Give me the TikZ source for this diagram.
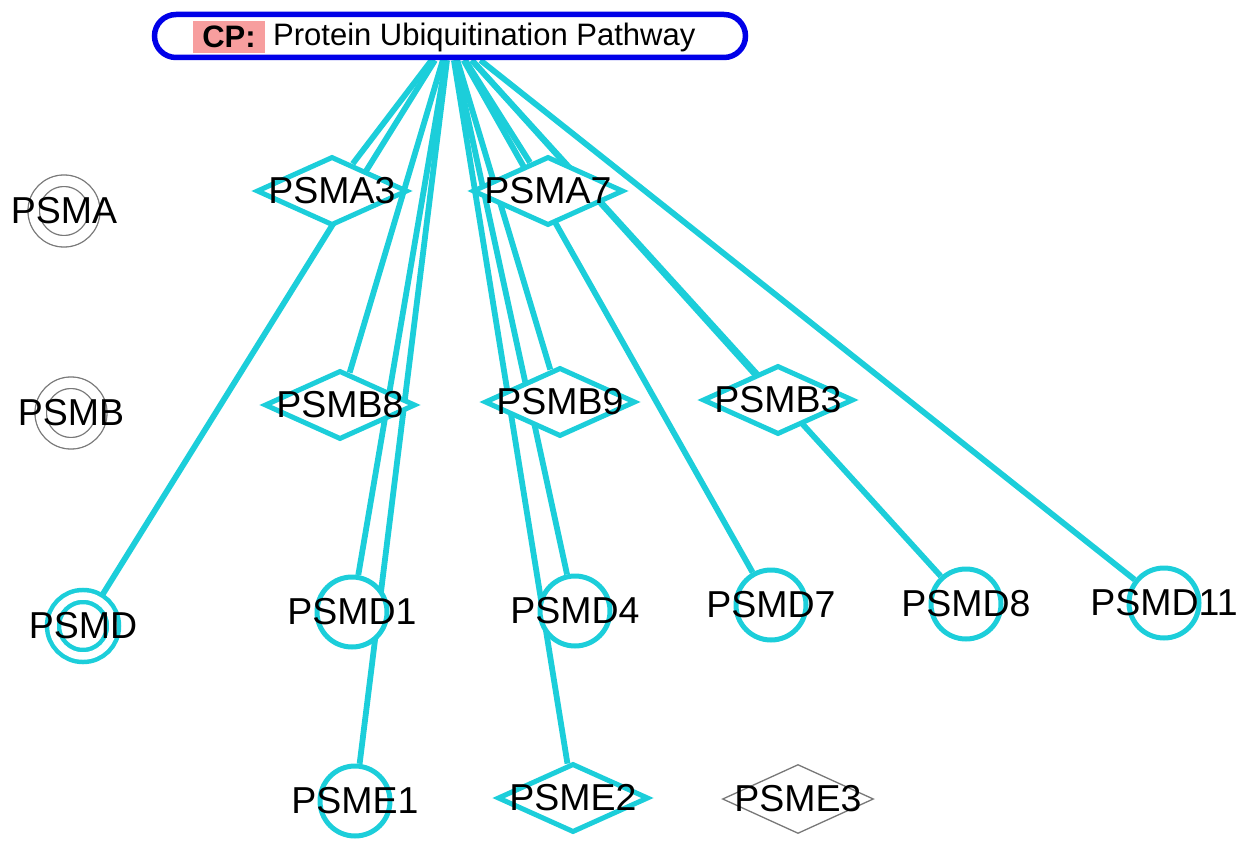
\documentclass[tikz,border=0pt]{standalone}
\usepackage{fontspec}
\setmainfont{Liberation Sans}
\usetikzlibrary{shapes.geometric,backgrounds}

\definecolor{tuerkis}{RGB}{28,206,218}
\definecolor{pfadblau}{RGB}{0,0,232}
\definecolor{cprosa}{RGB}{247,158,158}
\definecolor{grau}{RGB}{120,120,120}

\tikzset{
  gentext/.style={font=\fontsize{37.5}{40}\selectfont, inner sep=0pt},
  kante/.style={tuerkis, line width=5.8pt},
  raute/.style={diamond, draw=tuerkis, line width=5pt, fill=white,
    minimum width=151pt, minimum height=69pt, inner sep=0pt,
    label={[gentext]center:#1}},
  grauraute/.style={raute=#1, draw=grau, line width=1.3pt},
  kreis/.style={circle, draw=tuerkis, line width=5pt, fill=white,
    minimum size=70pt, inner sep=0pt, label={[gentext]center:#1}},
  ring/.style={circle, draw=tuerkis, line width=4.5pt, double=white,
    double distance=7.5pt, fill=white, minimum size=60pt, inner sep=0pt,
    label={[gentext]center:#1}},
  grauring/.style={ring=#1, draw=grau, line width=1.3pt,
    double distance=10.2pt, minimum size=60.5pt}
}

\begin{document}
\begin{tikzpicture}[x=1pt, y=-1pt]
  \useasboundingbox (0,0) rectangle (1242,842);

  % Pfad oben:
  \node[draw=pfadblau, line width=5.5pt, fill=white, rounded corners=21.5pt,
    minimum width=591pt, minimum height=43pt, inner sep=0pt] (cp) at (450,36) {};
  \node[fill=cprosa, minimum width=72pt, minimum height=32pt, inner sep=0pt,
    font=\fontsize{31}{33}\selectfont\bfseries] (cptag) at (229,37) {CP:};
  \node[anchor=west, inner sep=0pt, font=\fontsize{31}{33}\selectfont]
    (cpname) at (273,37) {Protein Ubiquitination Pathway};

  % linke Spalte (Gruppen):
  \node[grauring=PSMA] (psma) at (64,211) {};
  \node[grauring=PSMB] (psmb) at (71,413) {};
  \node[ring=PSMD] (psmd) at (83,626) {};

  % PSMA/PSMB:
  \node[raute=PSMA3] (psma3) at (332,191) {};
  \node[raute=PSMA7] (psma7) at (548,191) {};
  \node[raute=PSMB8] (psmb8) at (340,405) {};
  \node[raute=PSMB9] (psmb9) at (560,402) {};
  \node[raute=PSMB3] (psmb3) at (778,400) {};

  % PSMD:
  \node[kreis=PSMD1] (psmd1) at (352,612) {};
  \node[kreis=PSMD4] (psmd4) at (575,611) {};
  \node[kreis=PSMD7] (psmd7) at (771,605) {};
  \node[kreis=PSMD8] (psmd8) at (966,604) {};
  \node[kreis=PSMD11] (psmd11) at (1164,603) {};

  % PSME:
  \node[kreis=PSME1] (psme1) at (355,801) {};
  \node[raute=PSME2] (psme2) at (573,798) {};
  \node[grauraute=PSME3] (psme3) at (798,799) {};

  % Kanten hinter den Knoten:
  \begin{scope}[on background layer]
    \draw[kante] (cp) -- (psmd); % ueber PSMA3
    \draw[kante] (cp) -- (psma3);
    \draw[kante] (cp) -- (psma7);
    \draw[kante] (cp) -- (psmb8);
    \draw[kante] (cp) -- (psmb9);
    \draw[kante] (cp) -- (psmb3);
    \draw[kante] (cp) -- (psmd1);
    \draw[kante] (cp) -- (psmd4);
    \draw[kante] (cp) -- (psmd7);
    \draw[kante] (cp) -- (psmd8); % ueber PSMA7 und PSMB3
    \draw[kante] (cp) -- (psmd11);
    \draw[kante] (cp) -- (psme1);
    \draw[kante] (cp) -- (psme2);
  \end{scope}
\end{tikzpicture}
\end{document}
